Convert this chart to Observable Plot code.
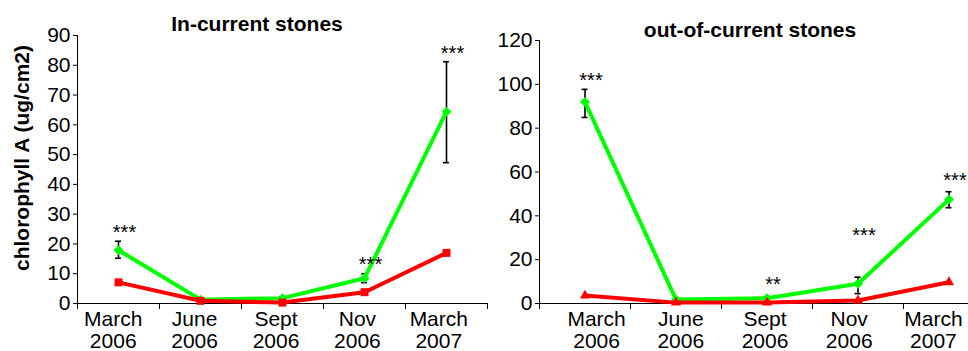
<!DOCTYPE html>
<html>
<head>
<meta charset="utf-8">
<script src="https://cdn.jsdelivr.net/npm/d3@7"></script>
<script src="https://cdn.jsdelivr.net/npm/@observablehq/plot@0.6"></script>
<style>
  html, body { margin: 0; padding: 0; background: #fff; }
  #wrap { position: relative; width: 968px; height: 351px; overflow: hidden; background: #fff;
          font-family: "Liberation Sans", Arial, sans-serif; color: #000; }
  .title { position: absolute; font-weight: bold; font-size: 21px; line-height: 21px; text-align: center; white-space: nowrap; }
  .ylab { position: absolute; font-weight: bold; font-size: 21px; line-height: 21px; white-space: nowrap;
          transform: translate(-50%, -50%) rotate(-90deg); }
  .panel { position: absolute; top: 0; }
  .panel svg { max-width: none !important; position: absolute; left: 0; top: 0; }
</style>
</head>
<body>
<div id="wrap">
  <div class="title" style="left:157px; width:200px; top:13px;">In-current stones</div>
  <div class="title" style="left:600px; width:300px; top:19px;">out-of-current stones</div>
  <div class="ylab" style="left:21px; top:157.5px;">chlorophyll A (ug/cm2)</div>
  <div id="left" class="panel" style="left:0px; width:490px; height:351px;"></div>
  <div id="right" class="panel" style="left:480px; width:519px; height:351px;"></div>
</div>
<script>
// ---- data ----
const categories = ["March\n2006", "June\n2006", "Sept\n2006", "Nov\n2006", "March\n2007"];

// In-current stones
const leftGreen = [17.9, 1.3, 1.8, 8.5, 64.4];
const leftGreenLo = [15.2, 1.0, 1.5, 7.0, 47.3];
const leftGreenHi = [20.9, 1.6, 2.1, 10.0, 81.2];
const leftRed = [7.1, 0.9, 0.3, 3.8, 17.0];
const leftSig = ["***", "", "", "***", "***"];
const leftSigY = [23.9, null, null, 13.1, 83.9];
const leftTicks = [0, 10, 20, 30, 40, 50, 60, 70, 80, 90];

// out-of-current stones
const rightGreen = [91.9, 1.8, 2.4, 9.0, 47.5];
const rightGreenLo = [84.9, 1.5, 1.8, 4.5, 43.7];
const rightGreenHi = [97.7, 2.1, 3.0, 12.0, 51.0];
const rightRed = [3.6, 0.4, 0.4, 1.4, 9.7];
const rightSig = ["***", "", "**", "***", "***"];
const rightSigY = [101.7, null, 8.6, 31.0, 56.1];
const rightTicks = [0, 20, 40, 60, 80, 100, 120];

const GREEN = "#00ff00";
const RED = "#ff0000";
const FONT = "Liberation Sans, Arial, sans-serif";

function rows(vals, lo, hi) {
  return vals.map((v, i) => ({i, v, lo: lo ? lo[i] : null, hi: hi ? hi[i] : null}));
}

function panel({green, lo, hi, red, sig, sigY, ticks, ymax, redSymbol, redR,
                width, marginLeft, marginRight, marginTop}) {
  const g = rows(green, lo, hi);
  const r = rows(red);
  const s = sig.map((t, i) => ({i, t, y: sigY[i]})).filter(d => d.t);
  const bounds = d3.range(categories.length + 1).map(k => k - 0.5);
  return Plot.plot({
    width, height: 351,
    marginLeft, marginRight, marginTop, marginBottom: 48,
    x: {domain: [-0.5, categories.length - 0.5], axis: null},
    y: {domain: [0, ymax], axis: null},
    style: {fontFamily: FONT, fontSize: "21px", background: "transparent", color: "#000", overflow: "visible", maxWidth: "none"},
    marks: [
      Plot.axisY(ticks, {anchor: "left", tickSize: 4, tickPadding: 3, label: null, stroke: "#000", fill: "#000"}),
      Plot.axisX(bounds, {anchor: "bottom", tickSize: 6, tickFormat: () => "", label: null, stroke: "#000"}),
      Plot.ruleX([-0.5], {stroke: "#000", strokeWidth: 1}),
      Plot.ruleY([0], {stroke: "#000", strokeWidth: 1}),
      // error bars
      Plot.ruleX(g, {x: "i", y1: "lo", y2: "hi", stroke: "#000", strokeWidth: 1.6}),
      Plot.ruleY(g, {x1: "i", x2: "i", y: "hi", insetLeft: -3, insetRight: -3, stroke: "#000", strokeWidth: 1.6}),
      Plot.ruleY(g, {x1: "i", x2: "i", y: "lo", insetLeft: -3, insetRight: -3, stroke: "#000", strokeWidth: 1.6}),
      // series
      Plot.line(g, {x: "i", y: "v", stroke: GREEN, strokeWidth: 4}),
      Plot.dot(g, {x: "i", y: "v", symbol: "diamond2", r: 4.5, fill: GREEN, stroke: "none"}),
      Plot.line(r, {x: "i", y: "v", stroke: RED, strokeWidth: 4}),
      Plot.dot(r, {x: "i", y: "v", symbol: redSymbol, r: redR, fill: RED, stroke: "none"}),
      // significance
      Plot.text(s, {x: "i", y: "y", text: "t", dx: 6, fontSize: 20, fill: "#000"})
    ]
  });
}

// category label row (the labels sit on a slightly different spacing than the points)
function labelRow({width, marginLeft, marginRight}) {
  return Plot.plot({
    width, height: 351,
    marginLeft, marginRight, marginTop: 35, marginBottom: 48,
    x: {domain: [-0.5, categories.length - 0.5], axis: null},
    y: {domain: [0, 1], axis: null},
    style: {fontFamily: FONT, fontSize: "21px", background: "transparent", color: "#000", overflow: "visible", maxWidth: "none"},
    marks: [
      Plot.text(categories, {x: (d, i) => i, y: () => 0, text: d => d, lineAnchor: "top", lineHeight: 1.05, dy: 7, fill: "#000", fontSize: 21})
    ]
  });
}

const L = document.getElementById("left");
L.appendChild(panel({
  green: leftGreen, lo: leftGreenLo, hi: leftGreenHi, red: leftRed,
  sig: leftSig, sigY: leftSigY, ticks: leftTicks, ymax: 90,
  redSymbol: "square", redR: 4.5,
  width: 490, marginLeft: 77, marginRight: 3, marginTop: 35
}));
L.appendChild(labelRow({width: 490, marginLeft: 72, marginRight: 11}));

const R = document.getElementById("right");
R.appendChild(panel({
  green: rightGreen, lo: rightGreenLo, hi: rightGreenHi, red: rightRed,
  sig: rightSig, sigY: rightSigY, ticks: rightTicks, ymax: 120,
  redSymbol: "triangle", redR: 3.8,
  width: 519, marginLeft: 59, marginRight: 5, marginTop: 40
}));
R.appendChild(labelRow({width: 519, marginLeft: 74, marginRight: 24}));
</script>
</body>
</html>
